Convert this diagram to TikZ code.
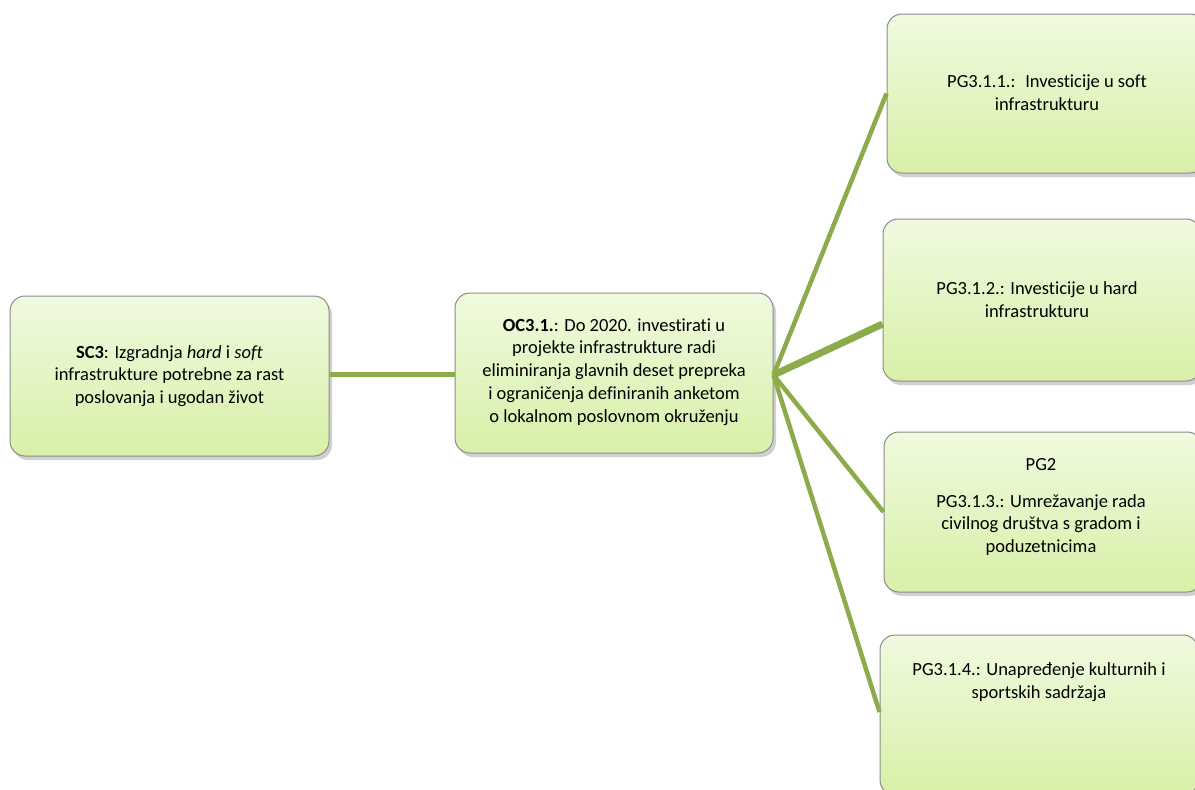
\documentclass[tikz,border=0pt]{standalone}
\usepackage{fontspec}
\setmainfont{Carlito}[Ligatures=NoCommon]
\usetikzlibrary{shadows,calc}
\definecolor{boxtop}{HTML}{F0FADF}
\definecolor{boxbot}{HTML}{D7F0A8}
\definecolor{boxline}{HTML}{8C8C8C}
\definecolor{linkc}{HTML}{8CAC4B}
\tikzset{
  goalbox/.style={rectangle, rounded corners=15pt, draw=boxline, line width=1pt,
    top color=boxtop, bottom color=boxbot, inner sep=0pt,
    drop shadow={shadow xshift=3pt, shadow yshift=-4pt, opacity=0.3, fill=black!60}},
  goaltext/.style={align=center, inner sep=0pt, font=\fontsize{18.5}{22.8}\selectfont},
  link/.style={draw=linkc, line width=4.5pt},
  thicklink/.style={draw=linkc, line width=7pt}
}
\begin{document}
\begin{tikzpicture}[x=1pt,y=-1pt]
\clip (0,0) rectangle (1195,790);
\fill[white] (0,0) rectangle (1195,790);
% boxes
\node[goalbox, minimum width=319pt, minimum height=160pt] (sc3) at (169.5,376) {};
\node[goalbox, minimum width=318pt, minimum height=160pt] (oc) at (614,373) {};
\node[goalbox, minimum width=318pt, minimum height=159pt] (pg1) at (1046,93.5) {};
\node[goalbox, minimum width=318pt, minimum height=162pt] (pg2) at (1042,300) {};
\node[goalbox, minimum width=318pt, minimum height=160pt] (pg3) at (1043,512) {};
\node[goalbox, minimum width=318pt, minimum height=160pt] (pg4) at (1039,715) {};
% texts
\node[goaltext] (sc3t) at (169.5,376) {\textbf{SC3}: Izgradnja \textit{hard} i \textit{soft}\\infrastrukture potrebne za rast\\poslovanja i ugodan život};
\node[goaltext] (oct) at (614,372) {\textbf{OC3.1.}: Do 2020. investirati u\\projekte infrastrukture radi\\eliminiranja glavnih deset prepreka\\i ograničenja definiranih anketom\\o lokalnom poslovnom okruženju};
\node[goaltext] (pg1t) at (1047,93) {PG3.1.1.:~ Investicije u soft\\infrastrukturu};
\node[goaltext] (pg2t) at (1037,300) {PG3.1.2.: Investicije u hard\\infrastrukturu};
\node[goaltext] (pg3t) at (1041,507) {PG2\\[14pt]PG3.1.3.: Umrežavanje rada\\civilnog društva s gradom i\\poduzetnicima};
\node[goaltext] (pg4t) at (1039,682) {PG3.1.4.: Unapređenje kulturnih i\\sportskih sadržaja};
% connectors
\coordinate (hub) at ($(oc.east)+(0,2)$);
\coordinate (e2) at ($(pg2.west)+(0,24)$);
\coordinate (e4) at ($(pg4.west)+(0,-3)$);
\draw[link] ($(sc3.east)+(0,-1.5)$) -- ($(oc.west)+(0,1.5)$);
\draw[link] (hub) -- (pg1.west);
\draw[thicklink] (hub) -- (e2);
\draw[link] (hub) -- (pg3.west);
\draw[link] (hub) -- (e4);
\end{tikzpicture}
\end{document}
